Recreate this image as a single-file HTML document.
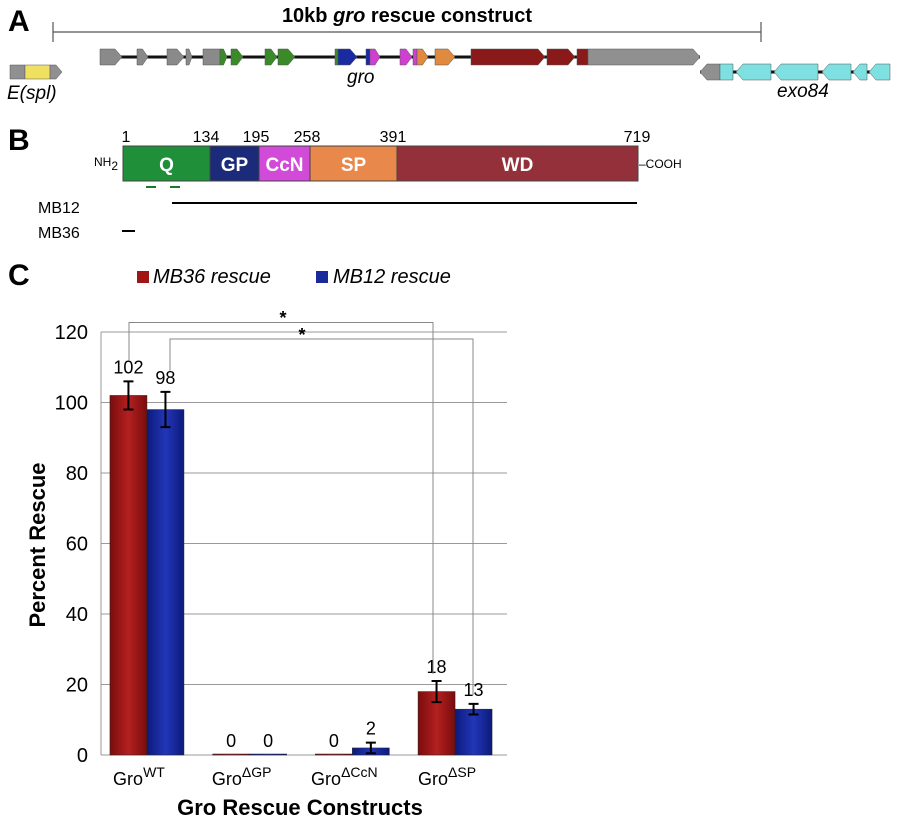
<!DOCTYPE html>
<html><head><meta charset="utf-8"><style>
body{margin:0;background:#fff}
svg{display:block;font-family:"Liberation Sans",Arial,sans-serif}
</style></head><body>
<svg id="fig" width="897" height="824" viewBox="0 0 897 824">
<defs>
<linearGradient id="gr" x1="0" x2="1"><stop offset="0" stop-color="#7a0c0c"/><stop offset="0.5" stop-color="#b42020"/><stop offset="1" stop-color="#7a0c0c"/></linearGradient>
<linearGradient id="gb" x1="0" x2="1"><stop offset="0" stop-color="#0c1a7a"/><stop offset="0.5" stop-color="#2236b8"/><stop offset="1" stop-color="#0c1a7a"/></linearGradient>
</defs>
<!-- Panel A -->
<g>
<text x="8" y="31" font-size="30" font-weight="bold">A</text>
<text x="407" y="22" font-size="20" font-weight="bold" text-anchor="middle">10kb <tspan font-style="italic">gro</tspan> rescue construct</text>
<g stroke="#555" stroke-width="1.2"><line x1="53" y1="32" x2="761" y2="32"/><line x1="53" y1="22" x2="53" y2="42"/><line x1="761" y1="22" x2="761" y2="42"/></g>
<line x1="100" y1="57" x2="700" y2="57" stroke="#111" stroke-width="3"/>
<g id="genes"></g>
<line x1="700" y1="72" x2="890" y2="72" stroke="#111" stroke-width="3"/>
<g id="genes2"></g>
<text x="347" y="83" font-size="19" font-style="italic">gro</text>
<text x="777" y="97" font-size="19" font-style="italic">exo84</text>
<text x="7" y="99" font-size="19" font-style="italic">E(spl)</text>
</g>
<!-- Panel B -->
<g>
<text x="8" y="150" font-size="30" font-weight="bold">B</text>
<g id="domains"></g>
<text x="94" y="166" font-size="12">NH<tspan dy="4">2</tspan></text>
<text x="639" y="168" font-size="12">–COOH</text>
<line x1="146" y1="187" x2="156" y2="187" stroke="#1a7a2a" stroke-width="2"/>
<line x1="170" y1="187" x2="180" y2="187" stroke="#1a7a2a" stroke-width="2"/>
<text x="38" y="213" font-size="16">MB12</text>
<line x1="172" y1="203" x2="637" y2="203" stroke="#000" stroke-width="2"/>
<text x="38" y="238" font-size="16">MB36</text>
<line x1="122" y1="231" x2="135" y2="231" stroke="#000" stroke-width="2"/>
</g>
<!-- Panel C -->
<g id="chart">
<text x="8" y="285" font-size="30" font-weight="bold">C</text>
<rect x="137" y="271" width="12" height="12" fill="#a01515"/>
<text x="153" y="283" font-size="20" font-style="italic">MB36 rescue</text>
<rect x="316" y="271" width="12" height="12" fill="#1a2a9a"/>
<text x="333" y="283" font-size="20" font-style="italic">MB12 rescue</text>
<text transform="translate(45,545) rotate(-90)" font-size="22" font-weight="bold" text-anchor="middle">Percent Rescue</text>
<text x="300" y="815" font-size="22" font-weight="bold" text-anchor="middle">Gro Rescue Constructs</text>
</g>
</svg>
<script>
const NS='http://www.w3.org/2000/svg';
function mk(tag,attrs,parent){const e=document.createElementNS(NS,tag);for(const k in attrs)e.setAttribute(k,attrs[k]);parent.appendChild(e);return e;}
// gene arrows (panel A)
const genes=document.getElementById('genes');
const geneParts=[[100,122,'#8a8a8a',1],[137,148,'#8a8a8a',1],[167,184,'#8a8a8a',1],[186,192,'#8a8a8a',1],[203,220,'#8a8a8a',0],[220,227,'#3a8a2a',1],[231,243,'#3a8a2a',1],[265,277,'#3a8a2a',1],[278,295,'#3a8a2a',1],[335,338,'#3a8a2a',0],[338,357,'#1a2aa0',1],[366,370,'#1a2aa0',0],[370,380,'#d040d0',1],[400,412,'#d040d0',1],[413,417,'#d040d0',0],[417,428,'#e08a40',1],[435,455,'#e08a40',1],[471,545,'#8a1a1a',1],[547,575,'#8a1a1a',1],[577,588,'#8a1a1a',0],[588,700,'#909090',1]];
geneParts.forEach(g=>{const[a,b,c,arr]=g;const t=arr?Math.min(7,(b-a)/2):0;
const p=mk('polygon',{points:`${a},49 ${b-t},49 ${b},57 ${b-t},65 ${a},65`,fill:c,stroke:'#555','stroke-width':0.5},genes);

});
const genes2=document.getElementById('genes2');
const exo=[[700,720,'#909090',1],[720,733,'#7ee0e0',0],[736,771,'#7ee0e0',1],[774,818,'#7ee0e0',1],[822,851,'#7ee0e0',1],[853,867,'#7ee0e0',1],[869,890,'#7ee0e0',1],[10,25,'#909090',0],[25,50,'#f0e060',0],[50,62,'#909090',2]];
exo.forEach(g=>{const[a,b,c,arr]=g;let pts;const t=Math.min(7,(b-a)/2);
if(arr===1)pts=`${a},72 ${a+t},64 ${b},64 ${b},80 ${a+t},80`;else if(arr===2)pts=`${a},65 ${b-t},65 ${b},72 ${b-t},79 ${a},79`;
else pts=a<100?`${a},65 ${b},65 ${b},79 ${a},79`:`${a},64 ${b},64 ${b},80 ${a},80`;
const p=mk('polygon',{points:pts,fill:c,stroke:'#555','stroke-width':0.5},genes2);

});
// domains (panel B)
const dom=document.getElementById('domains');
const domains=[['Q',123,210,'#1f8f3a','#fff'],['GP',210,259,'#1c2a7a','#fff'],['CcN',259,310,'#d24ad8','#fff'],['SP',310,397,'#e8884a','#fff'],['WD',397,638,'#93303a','#fff']];
const domNums=[['1',126],['134',206],['195',256],['258',307],['391',393],['719',637]];
domains.forEach(d=>{const r=mk('rect',{x:d[1],y:146,width:d[2]-d[1],height:35,fill:d[3],stroke:'#444','stroke-width':1},dom);


const t=mk('text',{x:(d[1]+d[2])/2,y:171,'font-size':19,'font-weight':'bold',fill:d[4],'text-anchor':'middle'},dom);t.textContent=d[0];

});
domNums.forEach(n=>{const t=mk('text',{x:n[1],y:142,'font-size':16,'text-anchor':'middle'},dom);t.textContent=n[0];

});
</script>
<script>
// Chart data
const categories=['WT','ΔGP','ΔCcN','ΔSP'];
const mb36Values=[102,0,0,18];
const mb12Values=[98,0,2,13];
const mb36Err=[4,0,0,3];
const mb12Err=[5,0,1.5,1.5];
const mb36Labels=['102','0','0','18'];
const mb12Labels=['98','0','2','13'];
const yTicks=[0,20,40,60,80,100,120];
const chart=document.getElementById('chart');
const y0=755,yScale=3.525,plotL=95.6,band=102.7,barW=37;
const Y=v=>y0-v*yScale;
const bandC=i=>plotL+band*(i+0.5);
// grid
yTicks.forEach(t=>{const l=mk('line',{x1:101,x2:507,y1:Y(t),y2:Y(t),stroke:'#999','stroke-width':1},chart);


const tx=mk('text',{x:88,y:Y(t)+7,'font-size':20,'text-anchor':'end'},chart);tx.textContent=t;

});
const ax=mk('line',{x1:101,x2:101,y1:Y(0),y2:Y(120),stroke:'#999','stroke-width':1},chart);


function bar(i,val,err,lab,side,fill,name){
const x=side?bandC(i):bandC(i)-barW;
const h=Math.max(val*yScale,1);
const r=mk('rect',{x:x,y:Y(val)-(val?0:1),width:barW,height:h,fill:fill,stroke:'#222','stroke-width':0.5},chart);


const cx=x+barW/2;
if(err>0){const e=mk('path',{d:`M${cx-5},${Y(val+err)}H${cx+5}M${cx},${Y(val+err)}V${Y(val-err)}M${cx-5},${Y(val-err)}H${cx+5}`,stroke:'#000','stroke-width':2,fill:'none'},chart);

}
const t=mk('text',{x:cx,y:Y(val+err)-8,'font-size':18,'text-anchor':'middle'},chart);t.textContent=lab;

}
categories.forEach((c,i)=>{
bar(i,mb36Values[i],mb36Err[i],mb36Labels[i],0,'url(#gr)','bar-mb36-'+i);
bar(i,mb12Values[i],mb12Err[i],mb12Labels[i],1,'url(#gb)','bar-mb12-'+i);
const t=mk('text',{x:bandC(i)-8,y:785,'font-size':18,'text-anchor':'middle'},chart);
t.innerHTML='Gro<tspan dy="-8" font-size="14">'+c+'</tspan>';

});
// significance brackets
const b1=mk('path',{d:`M129,${Y(112)}V322.5H433V${Y(23)}`,stroke:'#888','stroke-width':1,fill:'none'},chart);


const b2=mk('path',{d:`M170,${Y(109)}V339H473V${Y(17)}`,stroke:'#888','stroke-width':1,fill:'none'},chart);


[[283,324],[302,341]].forEach(p=>{const s=mk('text',{x:p[0],y:p[1],'font-size':18,'font-weight':'bold','text-anchor':'middle'},chart);s.textContent='*';

});
</script>
</body></html>
